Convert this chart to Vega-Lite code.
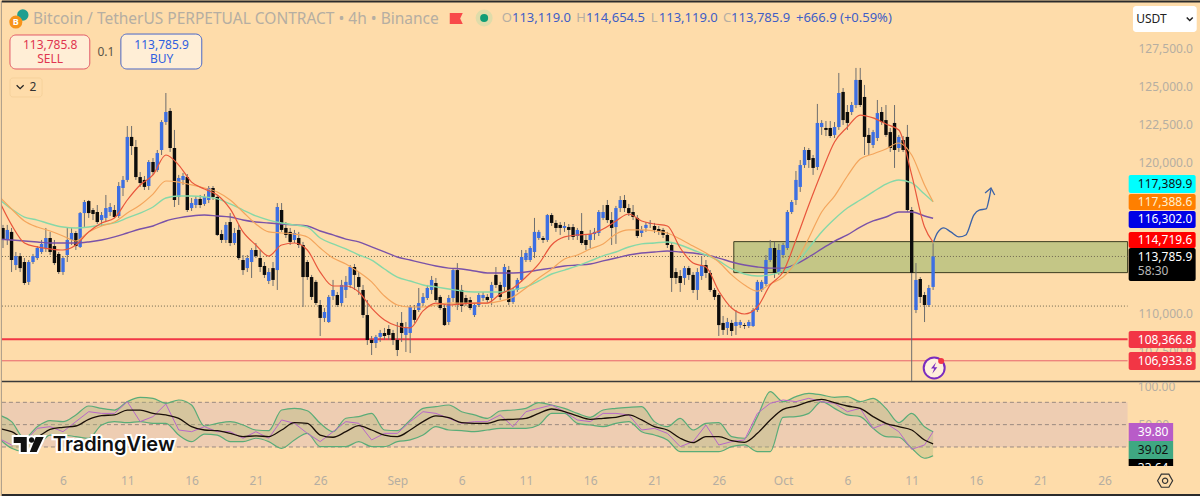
{
"$schema":"https://vega.github.io/schema/vega-lite/v6.json",
"background":"#fedcaa","padding":0,"spacing":0,"bounds":"flush",
"resolve":{"scale":{"color":"independent"}},
"config":{"view":{"stroke":null},"font":"Noto Sans","axis":{"grid":false,"domain":false,"ticks":false,"labelColor":"#b5aea2","labelFontSize":12,"labelFont":"Noto Sans","title":null,"labelOverlap":false,"labelBound":false,"labelFlush":false},"text":{"font":"Noto Sans"}},
"vconcat":[
{"width":1200,"height":382,
"encoding":{"x":{"field":"t","type":"temporal","scale":{"type":"utc","padding":0,"domain":[{"year":2025,"month":8,"date":1,"hours":4,"minutes":17,"utc":true},{"year":2025,"month":11,"date":2,"hours":12,"utc":true}]},"axis":null},
"y":{"field":"p","type":"quantitative","scale":{"domain":[105524,130660]},"axis":{"orient":"right","values":[127500,125000,122500,120000,110000,107500],"format":",.1f","labelAlign":"left","labelPadding":-63}}},
"layer":[
{"data":{"values":[{"t":"2025-09-27T04","t2":"2025-10-27T19","p":114760,"p2":112720}],"format":{"parse":{"t":"utc:'%Y-%m-%dT%H'","t2":"utc:'%Y-%m-%dT%H'"}}},
"mark":{"type":"rect","fill":"#9cb76e","fillOpacity":0.6,"stroke":"#3c3c20","strokeWidth":1},
"encoding":{"x2":{"field":"t2"},"y2":{"field":"p2"}}},
{"data":{"values":[{"t":"2025-08-01T06","t2":"2025-10-27T19","p":113785},{"t":"2025-08-01T06","t2":"2025-10-27T19","p":110520}],"format":{"parse":{"t":"utc:'%Y-%m-%dT%H'","t2":"utc:'%Y-%m-%dT%H'"}}},
"mark":{"type":"rule","stroke":"#6f6650","strokeWidth":1,"strokeDash":[1,2]},
"encoding":{"x2":{"field":"t2"}}},
{"data":{"values":[{"t":"2025-08-01T06","t2":"2025-10-27T19","p":108340}],"format":{"parse":{"t":"utc:'%Y-%m-%dT%H'","t2":"utc:'%Y-%m-%dT%H'"}}},
"mark":{"type":"rule","stroke":"#f23645","strokeWidth":2},
"encoding":{"x2":{"field":"t2"}}},
{"data":{"values":[{"t":"2025-08-01T06","t2":"2025-10-27T19","p":106920}],"format":{"parse":{"t":"utc:'%Y-%m-%dT%H'","t2":"utc:'%Y-%m-%dT%H'"}}},
"mark":{"type":"rule","stroke":"#e8636c","strokeWidth":1},
"encoding":{"x2":{"field":"t2"}}},
{"data":{"values":[
{"t":"2025-08-01T08","o":115660,"h":115860,"l":114340,"c":114870},
{"t":"2025-08-01T16","o":114870,"h":115860,"l":114540,"c":115530},
{"t":"2025-08-02T00","o":115400,"h":115660,"l":112760,"c":113550},
{"t":"2025-08-02T08","o":113220,"h":114080,"l":112890,"c":113810},
{"t":"2025-08-02T16","o":113810,"h":114010,"l":112760,"c":113020},
{"t":"2025-08-03T00","o":113420,"h":113680,"l":111910,"c":112040},
{"t":"2025-08-03T08","o":112110,"h":113550,"l":111910,"c":113420},
{"t":"2025-08-03T16","o":113420,"h":113950,"l":113290,"c":113810},
{"t":"2025-08-04T00","o":113680,"h":114470,"l":113550,"c":114340},
{"t":"2025-08-04T08","o":114080,"h":114870,"l":113950,"c":114610},
{"t":"2025-08-04T16","o":114340,"h":115660,"l":114080,"c":115000},
{"t":"2025-08-05T00","o":115000,"h":115400,"l":113880,"c":114080},
{"t":"2025-08-05T08","o":114470,"h":114870,"l":113220,"c":113350},
{"t":"2025-08-05T16","o":113950,"h":114080,"l":112630,"c":112760},
{"t":"2025-08-06T00","o":112760,"h":113810,"l":112570,"c":113680},
{"t":"2025-08-06T08","o":113880,"h":115660,"l":113420,"c":114870},
{"t":"2025-08-06T16","o":114870,"h":115660,"l":114540,"c":115330},
{"t":"2025-08-07T00","o":115330,"h":115460,"l":114210,"c":114470},
{"t":"2025-08-07T08","o":114410,"h":116710,"l":114340,"c":116640},
{"t":"2025-08-07T16","o":116640,"h":117500,"l":115660,"c":117370},
{"t":"2025-08-08T00","o":117430,"h":117500,"l":116320,"c":116640},
{"t":"2025-08-08T08","o":116840,"h":116970,"l":116180,"c":116580},
{"t":"2025-08-08T16","o":116710,"h":117170,"l":115920,"c":116050},
{"t":"2025-08-09T00","o":116180,"h":116710,"l":115790,"c":116510},
{"t":"2025-08-09T08","o":116320,"h":117830,"l":116050,"c":116970},
{"t":"2025-08-09T16","o":116710,"h":117300,"l":116450,"c":117040},
{"t":"2025-08-10T00","o":116840,"h":117170,"l":116320,"c":116380},
{"t":"2025-08-10T08","o":116450,"h":118680,"l":116320,"c":118420},
{"t":"2025-08-10T16","o":118290,"h":119080,"l":117760,"c":118820},
{"t":"2025-08-11T00","o":118820,"h":122370,"l":118680,"c":121650},
{"t":"2025-08-11T08","o":121650,"h":122370,"l":120460,"c":121050},
{"t":"2025-08-11T16","o":120990,"h":121450,"l":118820,"c":119010},
{"t":"2025-08-12T00","o":119010,"h":119340,"l":118360,"c":118620},
{"t":"2025-08-12T08","o":118820,"h":119080,"l":118160,"c":118360},
{"t":"2025-08-12T16","o":118420,"h":120130,"l":118160,"c":120000},
{"t":"2025-08-13T00","o":120000,"h":120260,"l":119150,"c":119340},
{"t":"2025-08-13T08","o":119470,"h":120790,"l":119340,"c":120590},
{"t":"2025-08-13T16","o":120790,"h":122760,"l":120460,"c":122630},
{"t":"2025-08-14T00","o":122630,"h":124540,"l":122440,"c":123290},
{"t":"2025-08-14T08","o":123360,"h":123550,"l":120660,"c":120920},
{"t":"2025-08-14T16","o":120920,"h":122110,"l":117040,"c":117500},
{"t":"2025-08-15T00","o":117700,"h":119150,"l":117170,"c":118950},
{"t":"2025-08-15T08","o":118820,"h":119280,"l":118490,"c":119080},
{"t":"2025-08-15T16","o":119010,"h":119210,"l":116710,"c":116840},
{"t":"2025-08-16T00","o":116970,"h":117630,"l":116780,"c":117300},
{"t":"2025-08-16T08","o":117170,"h":117760,"l":116970,"c":117570},
{"t":"2025-08-16T16","o":117570,"h":117830,"l":116970,"c":117170},
{"t":"2025-08-17T00","o":117240,"h":117890,"l":117110,"c":117700},
{"t":"2025-08-17T08","o":117500,"h":118420,"l":117300,"c":118290},
{"t":"2025-08-17T16","o":118290,"h":118420,"l":117500,"c":117700},
{"t":"2025-08-18T00","o":117700,"h":117830,"l":115130,"c":115200},
{"t":"2025-08-18T08","o":115260,"h":115530,"l":114670,"c":114870},
{"t":"2025-08-18T16","o":114870,"h":116050,"l":114670,"c":115860},
{"t":"2025-08-19T00","o":116050,"h":116640,"l":114470,"c":114670},
{"t":"2025-08-19T08","o":114670,"h":115660,"l":114540,"c":115330},
{"t":"2025-08-19T16","o":115530,"h":115860,"l":113550,"c":113680},
{"t":"2025-08-20T00","o":113550,"h":113880,"l":112570,"c":112890},
{"t":"2025-08-20T08","o":113020,"h":113880,"l":112760,"c":113680},
{"t":"2025-08-20T16","o":113420,"h":114340,"l":112370,"c":114210},
{"t":"2025-08-21T00","o":114210,"h":114670,"l":113680,"c":113810},
{"t":"2025-08-21T08","o":113680,"h":114210,"l":112760,"c":113090},
{"t":"2025-08-21T16","o":113160,"h":113420,"l":112370,"c":112570},
{"t":"2025-08-22T00","o":112170,"h":113020,"l":111970,"c":112760},
{"t":"2025-08-22T08","o":113020,"h":113420,"l":111840,"c":112240},
{"t":"2025-08-22T16","o":112890,"h":117300,"l":111580,"c":117040},
{"t":"2025-08-23T00","o":116840,"h":117300,"l":115400,"c":115530},
{"t":"2025-08-23T08","o":115660,"h":116050,"l":115000,"c":115200},
{"t":"2025-08-23T16","o":115400,"h":115660,"l":114540,"c":114740},
{"t":"2025-08-24T00","o":114870,"h":115530,"l":114670,"c":115330},
{"t":"2025-08-24T08","o":115000,"h":115400,"l":114340,"c":114540},
{"t":"2025-08-24T16","o":114540,"h":114740,"l":110460,"c":112430},
{"t":"2025-08-25T00","o":113420,"h":113550,"l":112240,"c":112430},
{"t":"2025-08-25T08","o":112430,"h":112570,"l":110920,"c":111120},
{"t":"2025-08-25T16","o":112110,"h":112240,"l":110590,"c":110720},
{"t":"2025-08-26T00","o":110590,"h":110920,"l":108550,"c":109740},
{"t":"2025-08-26T08","o":109740,"h":110390,"l":109470,"c":110130},
{"t":"2025-08-26T16","o":109470,"h":111250,"l":109410,"c":111120},
{"t":"2025-08-27T00","o":111180,"h":112240,"l":110920,"c":111580},
{"t":"2025-08-27T08","o":111250,"h":111450,"l":110460,"c":110590},
{"t":"2025-08-27T16","o":110720,"h":112240,"l":110530,"c":111910},
{"t":"2025-08-28T00","o":111580,"h":112500,"l":111050,"c":112110},
{"t":"2025-08-28T08","o":111910,"h":113220,"l":111710,"c":113090},
{"t":"2025-08-28T16","o":113090,"h":113290,"l":111580,"c":112570},
{"t":"2025-08-29T00","o":112430,"h":112760,"l":111250,"c":111780},
{"t":"2025-08-29T08","o":111580,"h":111910,"l":109740,"c":109930},
{"t":"2025-08-29T16","o":109930,"h":110920,"l":107960,"c":108290},
{"t":"2025-08-30T00","o":108290,"h":108550,"l":107300,"c":108090},
{"t":"2025-08-30T08","o":108090,"h":108620,"l":107760,"c":108490},
{"t":"2025-08-30T16","o":108490,"h":108950,"l":108160,"c":108750},
{"t":"2025-08-31T00","o":108750,"h":109080,"l":108290,"c":108550},
{"t":"2025-08-31T08","o":109010,"h":109270,"l":108290,"c":108620},
{"t":"2025-08-31T16","o":108750,"h":108950,"l":107960,"c":108290},
{"t":"2025-09-01T00","o":108290,"h":109470,"l":107230,"c":107630},
{"t":"2025-09-01T08","o":109410,"h":110130,"l":108160,"c":108750},
{"t":"2025-09-01T16","o":108620,"h":109470,"l":107500,"c":109080},
{"t":"2025-09-02T00","o":108750,"h":110590,"l":107430,"c":110460},
{"t":"2025-09-02T08","o":110260,"h":110590,"l":109410,"c":109610},
{"t":"2025-09-02T16","o":110260,"h":111710,"l":110130,"c":110720},
{"t":"2025-09-03T00","o":110720,"h":111380,"l":110530,"c":111120},
{"t":"2025-09-03T08","o":111050,"h":111910,"l":110920,"c":111710},
{"t":"2025-09-03T16","o":111580,"h":112500,"l":111310,"c":112240},
{"t":"2025-09-04T00","o":112040,"h":112370,"l":110790,"c":110920},
{"t":"2025-09-04T08","o":111120,"h":111250,"l":110260,"c":110390},
{"t":"2025-09-04T16","o":110390,"h":110590,"l":109210,"c":109270},
{"t":"2025-09-05T00","o":109470,"h":111250,"l":109270,"c":111050},
{"t":"2025-09-05T08","o":111050,"h":113020,"l":110790,"c":112890},
{"t":"2025-09-05T16","o":112890,"h":113350,"l":110260,"c":110590},
{"t":"2025-09-06T00","o":111580,"h":111910,"l":110130,"c":110530},
{"t":"2025-09-06T08","o":111050,"h":111250,"l":110530,"c":110720},
{"t":"2025-09-06T16","o":110920,"h":111120,"l":110260,"c":110390},
{"t":"2025-09-07T00","o":109930,"h":110720,"l":109800,"c":110590},
{"t":"2025-09-07T08","o":110590,"h":111380,"l":110460,"c":111250},
{"t":"2025-09-07T16","o":111050,"h":111450,"l":110850,"c":111250},
{"t":"2025-09-08T00","o":111120,"h":111310,"l":110720,"c":110920},
{"t":"2025-09-08T08","o":111050,"h":112110,"l":110590,"c":111910},
{"t":"2025-09-08T16","o":112570,"h":113090,"l":111710,"c":111910},
{"t":"2025-09-09T00","o":111910,"h":112110,"l":110920,"c":111120},
{"t":"2025-09-09T08","o":111780,"h":113290,"l":111450,"c":113090},
{"t":"2025-09-09T16","o":112890,"h":113160,"l":110590,"c":110790},
{"t":"2025-09-10T00","o":110790,"h":111710,"l":110660,"c":111580},
{"t":"2025-09-10T08","o":111580,"h":112370,"l":111450,"c":112240},
{"t":"2025-09-10T16","o":112240,"h":114210,"l":112110,"c":113750},
{"t":"2025-09-11T00","o":113550,"h":114210,"l":113420,"c":114010},
{"t":"2025-09-11T08","o":113550,"h":114470,"l":113420,"c":114340},
{"t":"2025-09-11T16","o":114080,"h":116320,"l":113680,"c":115400},
{"t":"2025-09-12T00","o":115000,"h":115530,"l":114870,"c":115400},
{"t":"2025-09-12T08","o":115000,"h":115130,"l":114670,"c":114870},
{"t":"2025-09-12T16","o":114870,"h":116580,"l":114740,"c":116510},
{"t":"2025-09-13T00","o":116510,"h":116640,"l":115790,"c":115990},
{"t":"2025-09-13T08","o":115990,"h":116180,"l":115400,"c":115660},
{"t":"2025-09-13T16","o":115860,"h":116050,"l":115200,"c":115660},
{"t":"2025-09-14T00","o":115660,"h":116050,"l":115400,"c":115790},
{"t":"2025-09-14T08","o":115720,"h":115920,"l":114870,"c":115530},
{"t":"2025-09-14T16","o":115720,"h":115920,"l":114870,"c":115070},
{"t":"2025-09-15T00","o":115130,"h":115660,"l":114870,"c":115530},
{"t":"2025-09-15T08","o":115460,"h":116640,"l":114540,"c":114670},
{"t":"2025-09-15T16","o":114870,"h":115200,"l":114210,"c":114540},
{"t":"2025-09-16T00","o":114870,"h":115530,"l":114340,"c":115260},
{"t":"2025-09-16T08","o":115260,"h":115660,"l":114870,"c":115400},
{"t":"2025-09-16T16","o":115330,"h":116840,"l":115130,"c":116710},
{"t":"2025-09-17T00","o":116320,"h":117170,"l":116180,"c":116710},
{"t":"2025-09-17T08","o":117170,"h":117500,"l":115990,"c":116180},
{"t":"2025-09-17T16","o":116180,"h":116710,"l":114540,"c":115660},
{"t":"2025-09-18T00","o":115720,"h":117110,"l":114610,"c":116970},
{"t":"2025-09-18T08","o":116970,"h":117760,"l":116710,"c":117500},
{"t":"2025-09-18T16","o":117500,"h":117830,"l":116710,"c":116970},
{"t":"2025-09-19T00","o":116970,"h":117240,"l":116450,"c":116640},
{"t":"2025-09-19T08","o":116710,"h":117170,"l":116180,"c":116380},
{"t":"2025-09-19T16","o":116320,"h":116510,"l":115000,"c":115130},
{"t":"2025-09-20T00","o":115330,"h":115790,"l":115070,"c":115530},
{"t":"2025-09-20T08","o":115660,"h":116050,"l":115400,"c":115860},
{"t":"2025-09-20T16","o":115920,"h":116180,"l":115660,"c":115990},
{"t":"2025-09-21T00","o":115790,"h":115990,"l":115330,"c":115530},
{"t":"2025-09-21T08","o":115590,"h":115790,"l":115200,"c":115400},
{"t":"2025-09-21T16","o":115530,"h":115660,"l":115000,"c":115200},
{"t":"2025-09-22T00","o":115200,"h":115400,"l":114340,"c":114540},
{"t":"2025-09-22T08","o":114540,"h":114670,"l":111450,"c":112370},
{"t":"2025-09-22T16","o":112760,"h":113020,"l":111970,"c":112370},
{"t":"2025-09-23T00","o":112500,"h":112890,"l":111450,"c":112040},
{"t":"2025-09-23T08","o":112370,"h":113160,"l":111910,"c":113020},
{"t":"2025-09-23T16","o":113020,"h":113160,"l":112240,"c":112570},
{"t":"2025-09-24T00","o":112570,"h":112760,"l":111380,"c":111580},
{"t":"2025-09-24T08","o":111580,"h":113020,"l":110920,"c":112760},
{"t":"2025-09-24T16","o":112500,"h":113810,"l":112240,"c":113220},
{"t":"2025-09-25T00","o":113220,"h":113550,"l":112370,"c":112700},
{"t":"2025-09-25T08","o":112700,"h":112890,"l":111450,"c":111580},
{"t":"2025-09-25T16","o":111580,"h":111710,"l":110920,"c":111120},
{"t":"2025-09-26T00","o":111250,"h":111380,"l":108550,"c":109270},
{"t":"2025-09-26T08","o":109410,"h":109870,"l":108620,"c":108950},
{"t":"2025-09-26T16","o":109080,"h":109740,"l":108620,"c":109470},
{"t":"2025-09-27T00","o":109410,"h":109610,"l":108550,"c":108880},
{"t":"2025-09-27T08","o":109210,"h":110260,"l":108620,"c":109470},
{"t":"2025-09-27T16","o":109270,"h":109610,"l":109080,"c":109470},
{"t":"2025-09-28T00","o":109270,"h":109410,"l":109010,"c":109210},
{"t":"2025-09-28T08","o":109210,"h":109610,"l":109080,"c":109470},
{"t":"2025-09-28T16","o":109210,"h":110390,"l":109140,"c":110260},
{"t":"2025-09-29T00","o":110260,"h":112240,"l":110130,"c":112110},
{"t":"2025-09-29T08","o":111580,"h":112240,"l":111450,"c":112110},
{"t":"2025-09-29T16","o":111970,"h":113880,"l":111840,"c":113550},
{"t":"2025-09-30T00","o":113550,"h":114870,"l":113420,"c":114340},
{"t":"2025-09-30T08","o":114340,"h":114740,"l":112370,"c":112700},
{"t":"2025-09-30T16","o":112760,"h":114610,"l":112570,"c":114210},
{"t":"2025-10-01T00","o":113880,"h":114670,"l":113680,"c":114540},
{"t":"2025-10-01T08","o":114340,"h":116840,"l":114210,"c":116710},
{"t":"2025-10-01T16","o":116710,"h":117500,"l":116580,"c":117370},
{"t":"2025-10-02T00","o":117500,"h":119410,"l":117170,"c":118820},
{"t":"2025-10-02T08","o":118360,"h":120130,"l":118030,"c":119800},
{"t":"2025-10-02T16","o":119800,"h":120990,"l":119610,"c":120790},
{"t":"2025-10-03T00","o":120790,"h":120920,"l":119610,"c":120130},
{"t":"2025-10-03T08","o":120260,"h":120460,"l":119150,"c":119610},
{"t":"2025-10-03T16","o":119670,"h":123820,"l":119470,"c":122570},
{"t":"2025-10-04T00","o":122300,"h":122760,"l":121780,"c":122570},
{"t":"2025-10-04T08","o":122240,"h":122700,"l":121710,"c":122110},
{"t":"2025-10-04T16","o":122240,"h":122700,"l":121580,"c":121710},
{"t":"2025-10-05T00","o":121780,"h":122630,"l":121580,"c":122300},
{"t":"2025-10-05T08","o":122300,"h":125860,"l":122110,"c":124540},
{"t":"2025-10-05T16","o":124610,"h":124870,"l":122440,"c":122760},
{"t":"2025-10-06T00","o":123290,"h":123750,"l":122110,"c":122570},
{"t":"2025-10-06T08","o":123290,"h":123950,"l":123090,"c":123750},
{"t":"2025-10-06T16","o":123750,"h":126190,"l":123550,"c":125400},
{"t":"2025-10-07T00","o":125400,"h":126190,"l":123620,"c":123750},
{"t":"2025-10-07T08","o":124280,"h":125070,"l":120460,"c":121650},
{"t":"2025-10-07T16","o":121780,"h":122240,"l":120460,"c":121250},
{"t":"2025-10-08T00","o":121120,"h":122110,"l":120920,"c":121970},
{"t":"2025-10-08T08","o":121580,"h":124080,"l":121380,"c":123220},
{"t":"2025-10-08T16","o":123290,"h":123620,"l":122440,"c":122630},
{"t":"2025-10-09T00","o":122760,"h":123750,"l":121650,"c":121780},
{"t":"2025-10-09T08","o":121970,"h":122240,"l":120660,"c":120920},
{"t":"2025-10-09T16","o":122570,"h":123750,"l":119610,"c":120790},
{"t":"2025-10-10T00","o":120920,"h":121780,"l":120660,"c":121650},
{"t":"2025-10-10T08","o":121450,"h":121710,"l":120660,"c":120790},
{"t":"2025-10-10T16","o":121650,"h":122440,"l":116710,"c":116840},
{"t":"2025-10-11T00","o":116840,"h":117040,"l":105600,"c":112700},
{"t":"2025-10-11T08","o":110260,"h":113350,"l":110060,"c":112240},
{"t":"2025-10-11T16","o":112300,"h":112430,"l":110720,"c":111120},
{"t":"2025-10-12T00","o":111250,"h":111450,"l":109470,"c":110590},
{"t":"2025-10-12T08","o":110590,"h":111910,"l":110460,"c":111710},
{"t":"2025-10-12T16","o":111780,"h":114650,"l":111580,"c":113790}
],"format":{"parse":{"t":"utc:'%Y-%m-%dT%H'"}}},
"layer":[
{"mark":{"type":"rule","stroke":"#6e6e6e","strokeWidth":1},"encoding":{"y":{"field":"l"},"y2":{"field":"h"}}},
{"mark":{"type":"bar","width":3.4},"encoding":{"y":{"field":"o"},"y2":{"field":"c"},"color":{"condition":{"test":"datum.c>=datum.o","value":"#3d6fe2"},"value":"#0c0c0c"}}}
]},
{"data":{"values":[
{"t":"2025-08-01T00","fast":117500,"mid":117760,"slow":117570,"long":114930},
{"t":"2025-08-02T00","fast":115860,"mid":116910,"slow":116910,"long":114870},
{"t":"2025-08-03T00","fast":114670,"mid":116120,"slow":116380,"long":114800},
{"t":"2025-08-04T00","fast":114410,"mid":115720,"slow":116180,"long":114740},
{"t":"2025-08-05T00","fast":114280,"mid":115460,"slow":115920,"long":114670},
{"t":"2025-08-06T00","fast":114210,"mid":115130,"slow":115720,"long":114670},
{"t":"2025-08-07T00","fast":114540,"mid":114800,"slow":115660,"long":114670},
{"t":"2025-08-08T00","fast":115400,"mid":115400,"slow":115720,"long":114740},
{"t":"2025-08-09T00","fast":115990,"mid":115790,"slow":115860,"long":114870},
{"t":"2025-08-10T00","fast":116320,"mid":116050,"slow":115990,"long":115070},
{"t":"2025-08-11T00","fast":117500,"mid":116640,"slow":116320,"long":115330},
{"t":"2025-08-12T00","fast":118490,"mid":117170,"slow":116640,"long":115590},
{"t":"2025-08-13T00","fast":119150,"mid":117890,"slow":117040,"long":115790},
{"t":"2025-08-14T00","fast":120460,"mid":118750,"slow":117630,"long":116120},
{"t":"2025-08-15T00","fast":119800,"mid":118680,"slow":117760,"long":116320},
{"t":"2025-08-16T00","fast":118680,"mid":118490,"slow":117760,"long":116450},
{"t":"2025-08-17T00","fast":118220,"mid":118290,"slow":117700,"long":116510},
{"t":"2025-08-18T00","fast":117830,"mid":118030,"slow":117570,"long":116450},
{"t":"2025-08-19T00","fast":116910,"mid":117500,"slow":117240,"long":116380},
{"t":"2025-08-20T00","fast":115400,"mid":116710,"slow":116840,"long":116180},
{"t":"2025-08-21T00","fast":114540,"mid":115920,"slow":116450,"long":116050},
{"t":"2025-08-22T00","fast":113810,"mid":115400,"slow":116180,"long":115990},
{"t":"2025-08-23T00","fast":114540,"mid":115330,"slow":115990,"long":115920},
{"t":"2025-08-24T00","fast":114670,"mid":115260,"slow":115860,"long":115860},
{"t":"2025-08-25T00","fast":114210,"mid":115070,"slow":115720,"long":115790},
{"t":"2025-08-26T00","fast":112760,"mid":114340,"slow":115000,"long":115460},
{"t":"2025-08-27T00","fast":111840,"mid":113680,"slow":114610,"long":115200},
{"t":"2025-08-28T00","fast":111840,"mid":113290,"slow":114280,"long":114930},
{"t":"2025-08-29T00","fast":111450,"mid":112760,"slow":113880,"long":114740},
{"t":"2025-08-30T00","fast":110390,"mid":112110,"slow":113550,"long":114410},
{"t":"2025-08-31T00","fast":109610,"mid":111180,"slow":112960,"long":114080},
{"t":"2025-09-01T00","fast":109210,"mid":110590,"slow":112430,"long":113750},
{"t":"2025-09-02T00","fast":109080,"mid":110460,"slow":112170,"long":113550},
{"t":"2025-09-03T00","fast":110200,"mid":110460,"slow":111910,"long":113350},
{"t":"2025-09-04T00","fast":110720,"mid":110590,"slow":111780,"long":113160},
{"t":"2025-09-05T00","fast":110590,"mid":110720,"slow":111640,"long":113020},
{"t":"2025-09-06T00","fast":110660,"mid":110720,"slow":111510,"long":112960},
{"t":"2025-09-07T00","fast":110720,"mid":110720,"slow":111450,"long":112830},
{"t":"2025-09-08T00","fast":110720,"mid":110720,"slow":111450,"long":112700},
{"t":"2025-09-09T00","fast":111310,"mid":110850,"slow":111450,"long":112700},
{"t":"2025-09-10T00","fast":111710,"mid":111120,"slow":111580,"long":112700},
{"t":"2025-09-11T00","fast":112430,"mid":111710,"slow":111780,"long":112760},
{"t":"2025-09-12T00","fast":113290,"mid":112370,"slow":112170,"long":112890},
{"t":"2025-09-13T00","fast":114540,"mid":112960,"slow":112630,"long":113020},
{"t":"2025-09-14T00","fast":115070,"mid":113620,"slow":112890,"long":113160},
{"t":"2025-09-15T00","fast":115200,"mid":113880,"slow":113160,"long":113220},
{"t":"2025-09-16T00","fast":115260,"mid":114280,"slow":113490,"long":113290},
{"t":"2025-09-17T00","fast":115590,"mid":114610,"slow":113820,"long":113490},
{"t":"2025-09-18T00","fast":116120,"mid":115260,"slow":114080,"long":113680},
{"t":"2025-09-19T00","fast":116580,"mid":115530,"slow":114410,"long":113880},
{"t":"2025-09-20T00","fast":116120,"mid":115530,"slow":114610,"long":114010},
{"t":"2025-09-21T00","fast":115920,"mid":115460,"slow":114670,"long":114080},
{"t":"2025-09-22T00","fast":115790,"mid":115330,"slow":114740,"long":114140},
{"t":"2025-09-23T00","fast":114340,"mid":114930,"slow":114540,"long":114080},
{"t":"2025-09-24T00","fast":113350,"mid":114470,"slow":114210,"long":114010},
{"t":"2025-09-25T00","fast":113090,"mid":114010,"slow":113880,"long":113880},
{"t":"2025-09-26T00","fast":111510,"mid":113420,"slow":113490,"long":113680},
{"t":"2025-09-27T00","fast":110390,"mid":112570,"slow":112960,"long":113420},
{"t":"2025-09-28T00","fast":110000,"mid":111910,"slow":112630,"long":113220},
{"t":"2025-09-29T00","fast":110460,"mid":111510,"slow":112500,"long":113090},
{"t":"2025-09-30T00","fast":111910,"mid":111970,"slow":112570,"long":113020},
{"t":"2025-10-01T00","fast":112760,"mid":112430,"slow":112830,"long":113020},
{"t":"2025-10-02T00","fast":114870,"mid":113420,"slow":113290,"long":113290},
{"t":"2025-10-03T00","fast":117170,"mid":115000,"slow":114340,"long":113750},
{"t":"2025-10-04T00","fast":119340,"mid":116710,"slow":115400,"long":114280},
{"t":"2025-10-05T00","fast":121320,"mid":117760,"slow":116250,"long":114800},
{"t":"2025-10-06T00","fast":122300,"mid":119080,"slow":116970,"long":115200},
{"t":"2025-10-07T00","fast":123090,"mid":120200,"slow":117500,"long":115720},
{"t":"2025-10-08T00","fast":122900,"mid":120530,"slow":118030,"long":116120},
{"t":"2025-10-09T00","fast":122500,"mid":120860,"slow":118550,"long":116380},
{"t":"2025-10-10T00","fast":122110,"mid":121250,"slow":118820,"long":116710},
{"t":"2025-10-11T00","fast":119150,"mid":120460,"slow":118620,"long":116710},
{"t":"2025-10-12T00","fast":115720,"mid":118490,"slow":117890,"long":116450},
{"t":"2025-10-12T16","fast":114720,"mid":117390,"slow":117390,"long":116300}
],"format":{"parse":{"t":"utc:'%Y-%m-%dT%H'"}}},
"layer":[
{"mark":{"type":"line","stroke":"#7a52a8","strokeWidth":1.4,"interpolate":"monotone","clip":true},"encoding":{"y":{"field":"long"}}},
{"mark":{"type":"line","stroke":"#86d8a8","strokeWidth":1.4,"interpolate":"monotone","clip":true},"encoding":{"y":{"field":"slow"}}},
{"mark":{"type":"line","stroke":"#f4a55c","strokeWidth":1.2,"interpolate":"monotone","clip":true},"encoding":{"y":{"field":"mid"}}},
{"mark":{"type":"line","stroke":"#e8563c","strokeWidth":1.2,"interpolate":"monotone","clip":true},"encoding":{"y":{"field":"fast"}}}
]},
{"data":{"values":[
{"t":"2025-10-12T17","p":114750},{"t":"2025-10-13T00","p":115330},{"t":"2025-10-13T12","p":115660},{"t":"2025-10-14T01","p":115400},{"t":"2025-10-14T16","p":115070},{"t":"2025-10-15T05","p":115200},{"t":"2025-10-15T20","p":116510},{"t":"2025-10-16T06","p":116840},{"t":"2025-10-16T19","p":116910},{"t":"2025-10-17T00","p":117500},{"t":"2025-10-17T04","p":118220}],"format":{"parse":{"t":"utc:'%Y-%m-%dT%H'"}}},
"mark":{"type":"line","stroke":"#3a62a8","strokeWidth":1.3,"interpolate":"monotone"}},
{"data":{"values":[{"t":"2025-10-16T17","p":117960},{"t":"2025-10-17T04","p":118290},{"t":"2025-10-17T11","p":117830}],"format":{"parse":{"t":"utc:'%Y-%m-%dT%H'"}}},
"mark":{"type":"line","stroke":"#3a62a8","strokeWidth":1.3}},
{"data":{"values":[
{"t":"2025-10-27T21","t2":"2025-11-02T02","top":119145,"bot":117960,"series":"ema100"},
{"t":"2025-10-27T21","t2":"2025-11-02T02","top":117890,"bot":116840,"series":"ema50"},
{"t":"2025-10-27T21","t2":"2025-11-02T02","top":116780,"bot":115660,"series":"ema200"},
{"t":"2025-10-27T21","t2":"2025-11-02T02","top":115400,"bot":114340,"series":"ema20"},
{"t":"2025-10-27T21","t2":"2025-11-02T02","top":114340,"bot":112170,"series":"last"},
{"t":"2025-10-27T21","t2":"2025-11-02T02","top":108880,"bot":107760,"series":"support"},
{"t":"2025-10-27T21","t2":"2025-11-02T02","top":107500,"bot":106310,"series":"support"}
],"format":{"parse":{"t":"utc:'%Y-%m-%dT%H'","t2":"utc:'%Y-%m-%dT%H'"}}},
"mark":{"type":"rect","cornerRadius":2},
"encoding":{"x2":{"field":"t2"},"y":{"field":"top"},"y2":{"field":"bot"},"color":{"field":"series","type":"nominal","scale":{"domain":["ema100","ema50","ema200","ema20","last","support"],"range":["#00ffff","#ff7f00","#0000e6","#ff0000","#000000","#f23645"]},"legend":null}}},
{"data":{"values":[
{"t":"2025-10-28T14","p":118550,"label":"117,389.9"},
{"t":"2025-10-28T14","p":117370,"label":"117,388.6"},
{"t":"2025-10-28T14","p":116220,"label":"116,302.0"},
{"t":"2025-10-28T14","p":114870,"label":"114,719.6"},
{"t":"2025-10-28T14","p":113750,"label":"113,785.9"},
{"t":"2025-10-28T14","p":112830,"label":"58:30"},
{"t":"2025-10-28T14","p":108320,"label":"108,366.8"},
{"t":"2025-10-28T14","p":106910,"label":"106,933.8"}
],"format":{"parse":{"t":"utc:'%Y-%m-%dT%H'"}}},
"mark":{"type":"text","align":"left","baseline":"middle","fontSize":12},
"encoding":{"text":{"field":"label"},"color":{"condition":[{"test":"datum.label=='117,389.9'","value":"#111111"},{"test":"datum.label=='58:30'","value":"#b8b8b8"},{"test":"datum.label=='117,388.6'","value":"#fff0d0"}],"value":"#ffffff"}}},
{"data":{"values":[{"t":"2025-10-28T05","t2":"2025-11-02T04","top":130260,"bot":128550}],"format":{"parse":{"t":"utc:'%Y-%m-%dT%H'","t2":"utc:'%Y-%m-%dT%H'"}}},
"mark":{"type":"rect","fill":"#ffffff","cornerRadius":3},
"encoding":{"x2":{"field":"t2"},"y":{"field":"top"},"y2":{"field":"bot"}}},
{"data":{"values":[{"t":"2025-10-28T11","p":129410,"label":"USDT"}],"format":{"parse":{"t":"utc:'%Y-%m-%dT%H'"}}},
"mark":{"type":"text","align":"left","baseline":"middle","fontSize":12,"color":"#222222"},"encoding":{"text":{"field":"label"}}},
{"data":{"values":[{"t":"2025-11-01T15","p":129410}],"format":{"parse":{"t":"utc:'%Y-%m-%dT%H'"}}},
"mark":{"type":"point","shape":"M-1,-0.5L0,0.5L1,-0.5","filled":false,"opacity":1,"stroke":"#222222","strokeWidth":1.5,"size":36}},
{"data":{"values":[{"t":"2025-08-02T21","p":129670}],"format":{"parse":{"t":"utc:'%Y-%m-%dT%H'"}}},
"mark":{"type":"point","shape":"circle","filled":true,"opacity":1,"color":"#1f9e90","size":130}},
{"data":{"values":[{"t":"2025-08-02T08","p":129210}],"format":{"parse":{"t":"utc:'%Y-%m-%dT%H'"}}},
"mark":{"type":"point","shape":"circle","filled":true,"opacity":1,"color":"#f7931a","size":170}},
{"data":{"values":[{"t":"2025-08-02T08","p":129210,"label":"B"}],"format":{"parse":{"t":"utc:'%Y-%m-%dT%H'"}}},
"mark":{"type":"text","fontSize":9,"fontWeight":700,"baseline":"middle","color":"#ffffff"},"encoding":{"text":{"field":"label"}}},
{"data":{"values":[{"t":"2025-08-03T16","p":129410,"label":"Bitcoin / TetherUS PERPETUAL CONTRACT • 4h • Binance"}],"format":{"parse":{"t":"utc:'%Y-%m-%dT%H'"}}},
"mark":{"type":"text","align":"left","baseline":"middle","fontSize":15.5,"color":"#b5aea2"},"encoding":{"text":{"field":"label"}}},
{"data":{"values":[
{"t":"2025-09-09T03","p":129476,"label":"O","kind":"key"},{"t":"2025-09-09T22","p":129476,"label":"113,119.0","kind":"value"},
{"t":"2025-09-14T22","p":129476,"label":"H","kind":"key"},{"t":"2025-09-15T16","p":129476,"label":"114,654.5","kind":"value"},
{"t":"2025-09-20T17","p":129476,"label":"L","kind":"key"},{"t":"2025-09-21T08","p":129476,"label":"113,119.0","kind":"value"},
{"t":"2025-09-26T08","p":129476,"label":"C","kind":"key"},{"t":"2025-09-26T23","p":129476,"label":"113,785.9","kind":"value"},
{"t":"2025-10-02T00","p":129476,"label":"+666.9 (+0.59%)","kind":"value"}
],"format":{"parse":{"t":"utc:'%Y-%m-%dT%H'"}}},
"mark":{"type":"text","align":"left","baseline":"middle","fontSize":13},
"encoding":{"text":{"field":"label"},"color":{"condition":{"test":"datum.kind=='key'","value":"#b5aea2"},"value":"#3f5ec6"}}},
{"data":{"values":[{"t":"2025-09-05T14","p":129440}],"format":{"parse":{"t":"utc:'%Y-%m-%dT%H'"}}},
"mark":{"type":"point","shape":"M-1,-0.85L1,-0.85L0.6,0L1,0.85L-1,0.85Z","filled":true,"opacity":1,"color":"#f84a4a","size":169}},
{"data":{"values":[{"t":"2025-09-07T18","p":129476}],"format":{"parse":{"t":"utc:'%Y-%m-%dT%H'"}}},
"layer":[
{"mark":{"type":"point","shape":"circle","filled":true,"opacity":1,"color":"#dfdcaa","size":289}},
{"mark":{"type":"point","shape":"circle","filled":true,"opacity":1,"color":"#0f9d76","size":64}}
]},
{"data":{"values":[
{"t":"2025-08-01T21","t2":"2025-08-08T02","top":128357,"bot":126120,"side":"sell"},
{"t":"2025-08-10T12","t2":"2025-08-16T19","top":128420,"bot":126120,"side":"buy"}
],"format":{"parse":{"t":"utc:'%Y-%m-%dT%H'","t2":"utc:'%Y-%m-%dT%H'"}}},
"mark":{"type":"rect","fill":"#ffeed6","strokeWidth":1,"cornerRadius":6},
"encoding":{"x2":{"field":"t2"},"y":{"field":"top"},"y2":{"field":"bot"},"stroke":{"field":"side","type":"nominal","scale":{"domain":["sell","buy"],"range":["#e25a68","#4a68c8"]},"legend":null}}},
{"data":{"values":[
{"t":"2025-08-05T00","p":127700,"label":"113,785.8","side":"sell"},
{"t":"2025-08-05T00","p":126780,"label":"SELL","side":"sell"},
{"t":"2025-08-13T16","p":127700,"label":"113,785.9","side":"buy"},
{"t":"2025-08-13T16","p":126780,"label":"BUY","side":"buy"},
{"t":"2025-08-09T08","p":127240,"label":"0.1","side":"size"}
],"format":{"parse":{"t":"utc:'%Y-%m-%dT%H'"}}},
"mark":{"type":"text","baseline":"middle","fontSize":12},
"encoding":{"text":{"field":"label"},"color":{"condition":[{"test":"datum.side=='sell'","value":"#e0354f"},{"test":"datum.side=='buy'","value":"#2f5fe0"}],"value":"#5a5448"}}},
{"data":{"values":[{"t":"2025-08-01T21","t2":"2025-08-04T09","top":125530,"bot":124280}],"format":{"parse":{"t":"utc:'%Y-%m-%dT%H'","t2":"utc:'%Y-%m-%dT%H'"}}},
"mark":{"type":"rect","fill":"#fedcaa","stroke":"#f6d29c","strokeWidth":1,"cornerRadius":3},
"encoding":{"x2":{"field":"t2"},"y":{"field":"top"},"y2":{"field":"bot"}}},
{"data":{"values":[{"t":"2025-08-02T16","p":124935}],"format":{"parse":{"t":"utc:'%Y-%m-%dT%H'"}}},
"mark":{"type":"point","shape":"M-1,-0.5L0,0.5L1,-0.5","filled":false,"opacity":1,"stroke":"#222222","strokeWidth":1.2,"size":49}},
{"data":{"values":[{"t":"2025-08-03T16","p":124935,"label":"2"}],"format":{"parse":{"t":"utc:'%Y-%m-%dT%H'"}}},
"mark":{"type":"text","baseline":"middle","fontSize":12,"color":"#333333"},"encoding":{"text":{"field":"label"}}},
{"data":{"values":[{"t":"2025-10-12T18","p":106446}],"format":{"parse":{"t":"utc:'%Y-%m-%dT%H'"}}},
"layer":[
{"mark":{"type":"point","shape":"circle","filled":true,"opacity":1,"fill":"#fff0dc","stroke":"#7b2cbf","strokeWidth":2,"size":440}},
{"mark":{"type":"point","shape":"M0.3,-0.9L-0.5,0.1L0,0.1L-0.3,0.9L0.5,-0.1L0,-0.1Z","filled":true,"opacity":1,"color":"#7b2cbf","size":160}}
]},
{"data":{"values":[{"t":"2025-10-13T07","p":106906}],"format":{"parse":{"t":"utc:'%Y-%m-%dT%H'"}}},
"mark":{"type":"point","shape":"circle","filled":true,"opacity":1,"color":"#f23645","size":36}},
{"data":{"values":[{"t":"2025-08-01T05","p":130600,"p2":105524}],"format":{"parse":{"t":"utc:'%Y-%m-%dT%H'"}}},
"mark":{"type":"rule","stroke":"#a89a88","strokeWidth":1},"encoding":{"y2":{"field":"p2"}}},
{"data":{"values":[{"t":"2025-08-01T06","t2":"2025-11-02T12","p":130560}],"format":{"parse":{"t":"utc:'%Y-%m-%dT%H'","t2":"utc:'%Y-%m-%dT%H'"}}},
"mark":{"type":"rule","stroke":"#2b2b2b","strokeWidth":2},"encoding":{"x2":{"field":"t2"}}},
{"data":{"values":[{"t":"2025-08-01T06","t2":"2025-11-02T12","p":105560}],"format":{"parse":{"t":"utc:'%Y-%m-%dT%H'","t2":"utc:'%Y-%m-%dT%H'"}}},
"mark":{"type":"rule","stroke":"#3a3a3a","strokeWidth":1.5},"encoding":{"x2":{"field":"t2"}}}
]},
{"width":1200,"height":114,
"encoding":{"x":{"field":"t","type":"temporal","scale":{"type":"utc","padding":0,"domain":[{"year":2025,"month":8,"date":1,"hours":4,"minutes":17,"utc":true},{"year":2025,"month":11,"date":2,"hours":12,"utc":true}]},"axis":{"orient":"bottom","offset":-21,"labelPadding":0,"values":[
{"year":2025,"month":8,"date":6,"utc":true},{"year":2025,"month":8,"date":11,"utc":true},{"year":2025,"month":8,"date":16,"utc":true},{"year":2025,"month":8,"date":21,"utc":true},{"year":2025,"month":8,"date":26,"utc":true},{"year":2025,"month":9,"date":1,"utc":true},{"year":2025,"month":9,"date":6,"utc":true},{"year":2025,"month":9,"date":11,"utc":true},{"year":2025,"month":9,"date":16,"utc":true},{"year":2025,"month":9,"date":21,"utc":true},{"year":2025,"month":9,"date":26,"utc":true},{"year":2025,"month":10,"date":1,"utc":true},{"year":2025,"month":10,"date":6,"utc":true},{"year":2025,"month":10,"date":11,"utc":true},{"year":2025,"month":10,"date":16,"utc":true},{"year":2025,"month":10,"date":21,"utc":true},{"year":2025,"month":10,"date":26,"utc":true}],
"labelExpr":"utcdate(datum.value)==1?utcFormat(datum.value,'%b'):''+utcdate(datum.value)"}},
"y":{"field":"r","type":"quantitative","scale":{"domain":[-13.9,88.2]},"axis":{"orient":"right","values":[50],"format":".2f","labelAlign":"left","labelPadding":-63}}},
"layer":[
{"data":{"values":[{"t":"2025-08-01T06","t2":"2025-10-27T19","r":70,"r2":30}],"format":{"parse":{"t":"utc:'%Y-%m-%dT%H'","t2":"utc:'%Y-%m-%dT%H'"}}},
"mark":{"type":"rect","fill":"#eecdb2"},
"encoding":{"x2":{"field":"t2"},"y2":{"field":"r2"}}},
{"data":{"values":[{"t":"2025-08-01T06","t2":"2025-10-27T19","r":70},{"t":"2025-08-01T06","t2":"2025-10-27T19","r":50},{"t":"2025-08-01T06","t2":"2025-10-27T19","r":30}],"format":{"parse":{"t":"utc:'%Y-%m-%dT%H'","t2":"utc:'%Y-%m-%dT%H'"}}},
"mark":{"type":"rule","stroke":"#9a8a80","strokeWidth":1,"strokeDash":[4,3]},"encoding":{"x2":{"field":"t2"}}},
{"data":{"values":[
{"t":"2025-08-01T00","up":58.7,"lo":37.8,"ma":46.7,"rsi":37.8},
{"t":"2025-08-02T00","up":52.7,"lo":28.8,"ma":43.7,"rsi":31.8},
{"t":"2025-08-03T00","up":37.8,"lo":25.8,"ma":37.8,"rsi":34.8},
{"t":"2025-08-04T00","up":48.2,"lo":30.3,"ma":39.3,"rsi":46.7},
{"t":"2025-08-05T00","up":53.6,"lo":40.7,"ma":45.8,"rsi":48.2},
{"t":"2025-08-06T00","up":52.7,"lo":40.7,"ma":47.6,"rsi":43.7},
{"t":"2025-08-07T00","up":58.7,"lo":39.3,"ma":48.8,"rsi":52.7},
{"t":"2025-08-08T00","up":66.7,"lo":37.8,"ma":54.8,"rsi":61.6},
{"t":"2025-08-09T00","up":64.6,"lo":49.7,"ma":58.1,"rsi":60.1},
{"t":"2025-08-10T00","up":63.1,"lo":52.7,"ma":58.7,"rsi":60.1},
{"t":"2025-08-11T00","up":70.6,"lo":51.8,"ma":63.1,"rsi":70.6},
{"t":"2025-08-12T00","up":74.5,"lo":52.7,"ma":63.1,"rsi":52.7},
{"t":"2025-08-13T00","up":73.6,"lo":51.2,"ma":60.1,"rsi":57.2},
{"t":"2025-08-14T00","up":69.1,"lo":51.2,"ma":58.7,"rsi":68.5},
{"t":"2025-08-15T00","up":72.1,"lo":40.7,"ma":55.7,"rsi":45.2},
{"t":"2025-08-16T00","up":67.6,"lo":34.8,"ma":48.2,"rsi":43.7},
{"t":"2025-08-17T00","up":48.8,"lo":41.6,"ma":45.2,"rsi":48.2},
{"t":"2025-08-18T00","up":51.2,"lo":40.7,"ma":44.6,"rsi":43.7},
{"t":"2025-08-19T00","up":52.7,"lo":34.8,"ma":42.2,"rsi":43.7},
{"t":"2025-08-20T00","up":49.7,"lo":34.8,"ma":39.3,"rsi":37.8},
{"t":"2025-08-21T00","up":45.2,"lo":37.8,"ma":39.9,"rsi":43.7},
{"t":"2025-08-22T00","up":44.6,"lo":34.8,"ma":39.3,"rsi":37.8},
{"t":"2025-08-23T00","up":63.1,"lo":28.8,"ma":45.2,"rsi":54.2},
{"t":"2025-08-24T00","up":64.6,"lo":36.3,"ma":51.8,"rsi":51.2},
{"t":"2025-08-25T00","up":62.5,"lo":42.2,"ma":51.2,"rsi":42.2},
{"t":"2025-08-26T00","up":51.2,"lo":30.3,"ma":40.7,"rsi":34.8},
{"t":"2025-08-27T00","up":43.7,"lo":30.3,"ma":38.7,"rsi":43.7},
{"t":"2025-08-28T00","up":55.7,"lo":30.3,"ma":43.7,"rsi":52.7},
{"t":"2025-08-29T00","up":57.2,"lo":34.8,"ma":49.1,"rsi":51.2},
{"t":"2025-08-30T00","up":60.1,"lo":30.3,"ma":45.2,"rsi":36.3},
{"t":"2025-08-31T00","up":45.2,"lo":30.3,"ma":40.7,"rsi":42.2},
{"t":"2025-09-01T00","up":44.6,"lo":34.8,"ma":39.3,"rsi":42.2},
{"t":"2025-09-02T00","up":54.2,"lo":36.3,"ma":45.2,"rsi":52.7},
{"t":"2025-09-03T00","up":64.6,"lo":40.7,"ma":52.7,"rsi":61.6},
{"t":"2025-09-04T00","up":66.1,"lo":48.2,"ma":57.8,"rsi":60.1},
{"t":"2025-09-05T00","up":67.6,"lo":45.2,"ma":56.3,"rsi":55.7},
{"t":"2025-09-06T00","up":61.6,"lo":44.6,"ma":51.8,"rsi":51.2},
{"t":"2025-09-07T00","up":58.7,"lo":43.7,"ma":51.2,"rsi":52.7},
{"t":"2025-09-08T00","up":55.7,"lo":45.2,"ma":51.2,"rsi":52.7},
{"t":"2025-09-09T00","up":62.2,"lo":46.7,"ma":54.2,"rsi":58.7},
{"t":"2025-09-10T00","up":63.1,"lo":46.7,"ma":54.8,"rsi":48.2},
{"t":"2025-09-11T00","up":64.6,"lo":46.7,"ma":55.7,"rsi":61.6},
{"t":"2025-09-12T00","up":69.7,"lo":49.7,"ma":60.1,"rsi":64.6},
{"t":"2025-09-13T00","up":67.6,"lo":60.1,"ma":64,"rsi":67.6},
{"t":"2025-09-14T00","up":64.6,"lo":60.1,"ma":61.6,"rsi":61.6},
{"t":"2025-09-15T00","up":60.1,"lo":51.2,"ma":57.8,"rsi":54.2},
{"t":"2025-09-16T00","up":56.6,"lo":49.7,"ma":54.8,"rsi":52.7},
{"t":"2025-09-17T00","up":63.1,"lo":48.2,"ma":55.7,"rsi":60.1},
{"t":"2025-09-18T00","up":64.6,"lo":51.2,"ma":56.6,"rsi":60.1},
{"t":"2025-09-19T00","up":65.5,"lo":52.7,"ma":58.7,"rsi":58.7},
{"t":"2025-09-20T00","up":66.1,"lo":43.7,"ma":54.2,"rsi":45.2},
{"t":"2025-09-21T00","up":52.7,"lo":40.7,"ma":48.2,"rsi":46.7},
{"t":"2025-09-22T00","up":48.2,"lo":36.3,"ma":45.2,"rsi":42.2},
{"t":"2025-09-23T00","up":55.7,"lo":25.8,"ma":37.8,"rsi":30.3},
{"t":"2025-09-24T00","up":45.2,"lo":25.8,"ma":33.9,"rsi":34.8},
{"t":"2025-09-25T00","up":51.2,"lo":25.8,"ma":39.3,"rsi":49.7},
{"t":"2025-09-26T00","up":51.8,"lo":25.8,"ma":39.3,"rsi":31.8},
{"t":"2025-09-27T00","up":39.3,"lo":30.3,"ma":35.7,"rsi":34.8},
{"t":"2025-09-28T00","up":37.8,"lo":31.8,"ma":34.2,"rsi":36.3},
{"t":"2025-09-29T00","up":57.2,"lo":25.8,"ma":42.2,"rsi":60.1},
{"t":"2025-09-30T00","up":79.6,"lo":25.8,"ma":54.2,"rsi":69.1},
{"t":"2025-10-01T00","up":70.6,"lo":56.6,"ma":63.7,"rsi":72.1},
{"t":"2025-10-02T00","up":75.1,"lo":57.2,"ma":66.7,"rsi":70.6},
{"t":"2025-10-03T00","up":78.1,"lo":60.1,"ma":70.6,"rsi":73.6},
{"t":"2025-10-04T00","up":76.6,"lo":70.6,"ma":72.7,"rsi":70.6},
{"t":"2025-10-05T00","up":74.5,"lo":64.6,"ma":69.7,"rsi":69.1},
{"t":"2025-10-06T00","up":75.1,"lo":58.7,"ma":66.7,"rsi":61.6},
{"t":"2025-10-07T00","up":70.6,"lo":57.2,"ma":64.6,"rsi":64.6},
{"t":"2025-10-08T00","up":73.6,"lo":46.7,"ma":57.2,"rsi":46.7},
{"t":"2025-10-09T00","up":64.6,"lo":39.3,"ma":51.2,"rsi":51.2},
{"t":"2025-10-10T00","up":51.8,"lo":38.7,"ma":48.2,"rsi":43.7},
{"t":"2025-10-11T00","up":60.1,"lo":28.8,"ma":45.2,"rsi":27.9},
{"t":"2025-10-12T00","up":48.2,"lo":19.9,"ma":36.3,"rsi":31.8},
{"t":"2025-10-12T16","up":43.7,"lo":22.2,"ma":32.7,"rsi":43.7}
],"format":{"parse":{"t":"utc:'%Y-%m-%dT%H'"}}},
"layer":[
{"mark":{"type":"area","fill":"#a8b878","fillOpacity":0.35,"interpolate":"monotone","clip":true},"encoding":{"y":{"field":"up"},"y2":{"field":"lo"}}},
{"mark":{"type":"line","stroke":"#5aac78","strokeWidth":1.2,"interpolate":"monotone","clip":true},"encoding":{"y":{"field":"up"}}},
{"mark":{"type":"line","stroke":"#5aac78","strokeWidth":1.2,"interpolate":"monotone","clip":true},"encoding":{"y":{"field":"lo"}}},
{"mark":{"type":"line","stroke":"#b868c8","strokeWidth":1,"clip":true},"encoding":{"y":{"field":"rsi"}}},
{"mark":{"type":"line","stroke":"#1a0f08","strokeWidth":1.3,"interpolate":"monotone","clip":true},"encoding":{"y":{"field":"ma"}}}
]},
{"data":{"values":[{"t":"2025-10-27T21","t2":"2025-10-31T08","top":51.5,"bot":35.4,"series":"rsi"},{"t":"2025-10-27T21","t2":"2025-10-31T08","top":35.4,"bot":19.2,"series":"basis"},{"t":"2025-10-27T21","t2":"2025-10-31T08","top":19.2,"bot":13,"series":"ma"}],"format":{"parse":{"t":"utc:'%Y-%m-%dT%H'","t2":"utc:'%Y-%m-%dT%H'"}}},
"mark":{"type":"rect"},
"encoding":{"x2":{"field":"t2"},"y":{"field":"top"},"y2":{"field":"bot"},"color":{"field":"series","type":"nominal","scale":{"domain":["rsi","basis","ma"],"range":["#b85cc8","#3fa882","#000000"]},"legend":null}}},
{"data":{"values":[{"t":"2025-10-28T14","r":43.4,"label":"39.80"},{"t":"2025-10-28T14","r":27.3,"label":"39.02"},{"t":"2025-10-28T14","r":11.2,"label":"33.64"}],"format":{"parse":{"t":"utc:'%Y-%m-%dT%H'"}}},
"mark":{"type":"text","align":"left","baseline":"middle","fontSize":12},
"encoding":{"text":{"field":"label"},"color":{"condition":{"test":"datum.label=='39.02'","value":"#111111"},"value":"#ffffff"}}},
{"data":{"values":[{"t":"2025-10-27T21","t2":"2025-10-31T08","top":13,"bot":5}],"format":{"parse":{"t":"utc:'%Y-%m-%dT%H'","t2":"utc:'%Y-%m-%dT%H'"}}},
"mark":{"type":"rect","fill":"#fedcaa"},
"encoding":{"x2":{"field":"t2"},"y":{"field":"top"},"y2":{"field":"bot"}}},
{"data":{"values":[{"t":"2025-10-28T14","r":83.7,"label":"100.00"}],"format":{"parse":{"t":"utc:'%Y-%m-%dT%H'"}}},
"mark":{"type":"text","align":"left","baseline":"middle","fontSize":12,"color":"#b5aea2"},"encoding":{"text":{"field":"label"}}},
{"data":{"values":[{"t":"2025-08-03T08","r":31.8}],"format":{"parse":{"t":"utc:'%Y-%m-%dT%H'"}}},
"layer":[
{"mark":{"type":"point","shape":"M-1,-0.53L-0.13,-0.53L-0.13,0.47L-0.53,0.47L-0.53,-0.13L-1,-0.13ZM0.37,-0.33A0.18,0.18 0 1 1 0.01,-0.33A0.18,0.18 0 1 1 0.37,-0.33ZM0.47,-0.53L1,-0.53L0.53,0.47L0.07,0.47Z","filled":true,"opacity":1,"fill":"#ffffff","stroke":"#ffffff","strokeWidth":4,"size":900}},
{"mark":{"type":"point","shape":"M-1,-0.53L-0.13,-0.53L-0.13,0.47L-0.53,0.47L-0.53,-0.13L-1,-0.13ZM0.37,-0.33A0.18,0.18 0 1 1 0.01,-0.33A0.18,0.18 0 1 1 0.37,-0.33ZM0.47,-0.53L1,-0.53L0.53,0.47L0.07,0.47Z","filled":true,"opacity":1,"color":"#111111","size":900}}
]},
{"data":{"values":[{"t":"2025-08-05T05","r":31.8,"label":"TradingView"}],"format":{"parse":{"t":"utc:'%Y-%m-%dT%H'"}}},
"encoding":{"text":{"field":"label"}},
"layer":[
{"mark":{"type":"text","align":"left","baseline":"middle","fontSize":20,"font":"Inter","fontWeight":600,"stroke":"#ffffff","strokeWidth":4,"fill":"#ffffff"}},
{"mark":{"type":"text","align":"left","baseline":"middle","fontSize":20,"font":"Inter","fontWeight":600,"color":"#111111"}}
]},
{"data":{"values":[{"t":"2025-10-30T17","r":-0.2}],"format":{"parse":{"t":"utc:'%Y-%m-%dT%H'"}}},
"layer":[
{"mark":{"type":"point","shape":"M-1,0L-0.5,-0.87L0.5,-0.87L1,0L0.5,0.87L-0.5,0.87Z","filled":false,"opacity":1,"stroke":"#333333","strokeWidth":1.2,"size":225}},
{"mark":{"type":"point","shape":"circle","filled":false,"opacity":1,"stroke":"#333333","strokeWidth":1.2,"size":28}}
]},
{"data":{"values":[{"t":"2025-08-01T05","r":88.2,"r2":-13.9}],"format":{"parse":{"t":"utc:'%Y-%m-%dT%H'"}}},
"mark":{"type":"rule","stroke":"#a89a88","strokeWidth":1},"encoding":{"y2":{"field":"r2"}}},
{"data":{"values":[{"t":"2025-08-01T06","t2":"2025-11-02T12","r":-13}],"format":{"parse":{"t":"utc:'%Y-%m-%dT%H'","t2":"utc:'%Y-%m-%dT%H'"}}},
"mark":{"type":"rule","stroke":"#2b2b2b","strokeWidth":2},"encoding":{"x2":{"field":"t2"}}}
]}
]}
